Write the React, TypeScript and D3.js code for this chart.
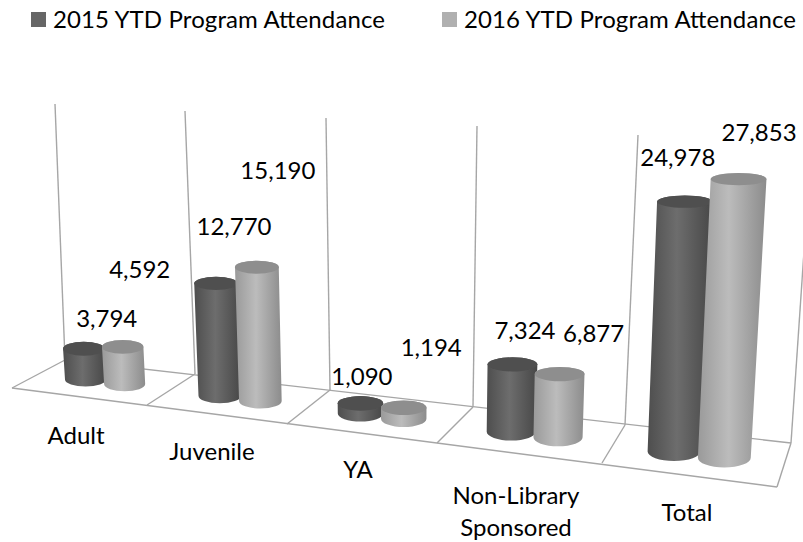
import React from "react";
import * as d3 from "d3";

// ---- data ----
const categories = ["Adult", "Juvenile", "YA", "Non-Library Sponsored", "Total"];
const series2015 = [3794, 12770, 1090, 7324, 24978];
const series2016 = [4592, 15190, 1194, 6877, 27853];
const seriesNames = ["2015 YTD Program Attendance", "2016 YTD Program Attendance"];

// ---- perspective calibration (floor grid and depth scale) ----
const gridU = [0, 1, 2, 3, 4, 5];
const frontXr = [12, 147, 287, 437, 602, 777];
const frontYr = [388, 405, 424, 443, 463, 487];
const backXr = [65, 195, 330, 473, 625, 791];
const backYr = [360, 374, 390, 407, 425, 443];
const wallTopXr = [55, 185, 326, 477, 638, 806];
const wallTopYr = [104, 111, 118, 126, 135, 222];
const pxPerUnit = [0.0081, 0.0088, 0.0092, 0.0092, 0.0100];

const fx = d3.scaleLinear().domain(gridU).range(frontXr);
const fy = d3.scaleLinear().domain(gridU).range(frontYr);
const bx = d3.scaleLinear().domain(gridU).range(backXr);
const by = d3.scaleLinear().domain(gridU).range(backYr);
const tx = d3.scaleLinear().domain(gridU).range(wallTopXr);
const ty = d3.scaleLinear().domain(gridU).range(wallTopYr);
const lean = d3.scaleLinear().domain([80, 400, 730]).range([-0.06, 0, 0.052]);
const topRy = d3.scaleLinear().domain([170, 410]).range([6, 7.3]).clamp(true);
const botRy = d3.scaleLinear().domain([380, 465]).range([7, 10]).clamp(true);

// label placement relative to the top of each bar [dx, dy], by series then category
const labelOffset2015 = [[23, -22], [18, -48], [1.5, -18], [12.5, -25], [-7, -36]];
const labelOffset2016 = [[17, -69], [21, -88], [27.5, -52], [34, -32], [20.5, -38]];
const catLabelX = [76, 212, 358, 516, 687];
const catLabelY = [444, 460, 478, 504, 521];

const FONT = "Lato, Carlito, sans-serif";
const FS = 24;
const GRID = "#a6a6a6";

function bar(i: number, s: number, value: number) {
  const u = i + 0.5 + (s === 0 ? -0.145 : 0.15);
  const x0 = (fx(u) + bx(u)) / 2;
  const y0 = (fy(u) + by(u)) / 2;
  const spacing = (fx(i + 1) - fx(i) + bx(i + 1) - bx(i)) / 2;
  const rx0 = spacing * 0.155;
  const h = value * pxPerUnit[i];
  const x1 = x0 + lean(x0) * h;
  const y1 = y0 - h;
  const rx1 = rx0 * (1 + h * 0.0002);
  const ryT = topRy(y1);
  const ryB = botRy(y0);
  const body = `M${x1 - rx1},${y1} L${x0 - rx0},${y0} A${rx0},${ryB} 0 0 0 ${x0 + rx0},${y0} L${x1 + rx1},${y1} A${rx1},${ryT} 0 0 0 ${x1 - rx1},${y1} Z`;
  return { x1, y1, rx1, ryT, body };
}

export default function App() {
  const bars = categories.flatMap((c, i) => [
    { i, s: 0, v: series2015[i], off: labelOffset2015[i], ...bar(i, 0, series2015[i]) },
    { i, s: 1, v: series2016[i], off: labelOffset2016[i], ...bar(i, 1, series2016[i]) },
  ]);
  const fmt = d3.format(",");
  const lines = [
    ...gridU.map((u) => [fx(u), fy(u), bx(u), by(u)]),
    ...gridU.map((u) => [bx(u), by(u), tx(u), ty(u)]),
    [fx(0), fy(0), fx(5), fy(5)],
    [bx(0), by(0), bx(5), by(5)],
  ];
  const legendX = [31, 442];
  return (
    <svg width={803} height={542} style={{ position: "absolute", left: 0, top: 0, background: "#fff" }}>
      <defs>
        <linearGradient id="g0" x1="0" x2="1" y1="0" y2="0">
          <stop offset="0" stopColor="#4e4e4e" />
          <stop offset="0.45" stopColor="#6d6d6d" />
          <stop offset="1" stopColor="#474747" />
        </linearGradient>
        <linearGradient id="g1" x1="0" x2="1" y1="0" y2="0">
          <stop offset="0" stopColor="#9a9a9a" />
          <stop offset="0.45" stopColor="#bcbcbc" />
          <stop offset="1" stopColor="#8c8c8c" />
        </linearGradient>
      </defs>
      {lines.map((l, k) => (
        <line key={k} x1={l[0]} y1={l[1]} x2={l[2]} y2={l[3]} stroke={GRID} strokeWidth={1.4} />
      ))}
      {bars.map((b) => (
        <g key={`${b.i}-${b.s}`}>
          <path d={b.body} fill={`url(#g${b.s})`} />
          <ellipse cx={b.x1} cy={b.y1} rx={b.rx1} ry={b.ryT} fill={b.s === 0 ? "#4f4f4f" : "#8e8e8e"} />
        </g>
      ))}
      <g fontFamily={FONT} fontSize={FS} fill="#000">
        {bars.map((b) => (
          <text key={`l${b.i}-${b.s}`} x={b.x1 + b.off[0]} y={b.y1 + b.off[1]} textAnchor="middle">
            {fmt(b.v)}
          </text>
        ))}
        {categories.map((c, i) =>
          c === "Non-Library Sponsored" ? (
            <text key={c} textAnchor="middle">
              <tspan x={catLabelX[i]} y={catLabelY[i]}>Non-Library</tspan>
              <tspan x={catLabelX[i]} y={catLabelY[i] + 32}>Sponsored</tspan>
            </text>
          ) : (
            <text key={c} x={catLabelX[i]} y={catLabelY[i]} textAnchor="middle">{c}</text>
          )
        )}
        {seriesNames.map((n, k) => (
          <g key={n}>
            <rect x={legendX[k]} y={12} width={15} height={15} fill={k === 0 ? "#666666" : "#b0b0b0"} />
            <text x={legendX[k] + 22} y={28} textLength={332} lengthAdjust="spacing">{n}</text>
          </g>
        ))}
      </g>
    </svg>
  );
}
